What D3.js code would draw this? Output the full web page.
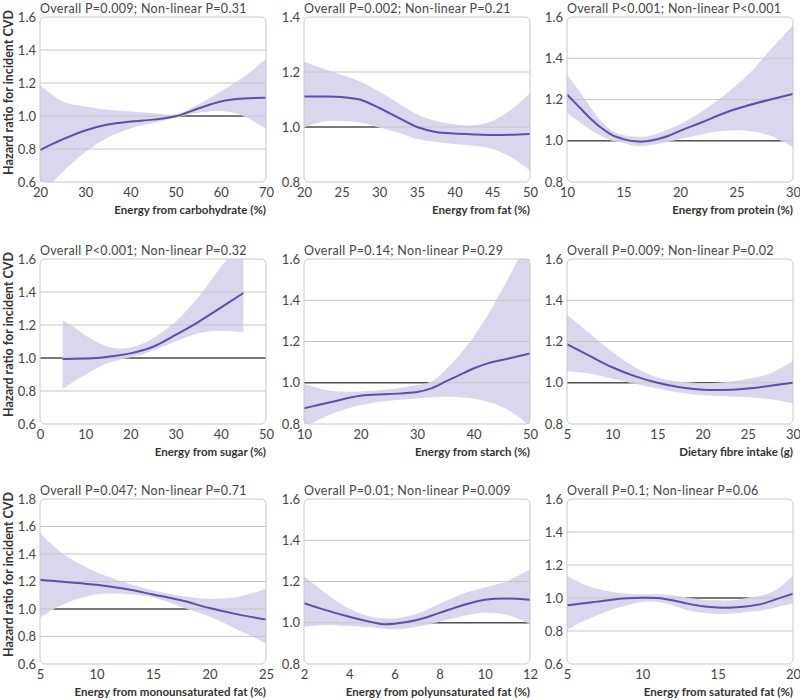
<!DOCTYPE html>
<html>
<head>
<meta charset="utf-8">
<script src="https://cdn.jsdelivr.net/npm/d3@7"></script>
<style>
  body { margin: 0; background: #fff; }
  svg { font-family: Lato, "Open Sans", sans-serif; }
</style>
</head>
<body>
<svg id="chart"></svg>
<script>
const width = 800;
const height = 700;

// panel titles, axis labels and ticks
const pTexts = [
  "Overall P=0.009; Non-linear P=0.31", "Overall P=0.002; Non-linear P=0.21", "Overall P<0.001; Non-linear P<0.001",
  "Overall P<0.001; Non-linear P=0.32", "Overall P=0.14; Non-linear P=0.29", "Overall P=0.009; Non-linear P=0.02",
  "Overall P=0.047; Non-linear P=0.71", "Overall P=0.01; Non-linear P=0.009", "Overall P=0.1; Non-linear P=0.06"
];
const xLabels = [
  "Energy from carbohydrate (%)", "Energy from fat (%)", "Energy from protein (%)",
  "Energy from sugar (%)", "Energy from starch (%)", "Dietary fibre intake (g)",
  "Energy from monounsaturated fat (%)", "Energy from polyunsaturated fat (%)", "Energy from saturated fat (%)"
];
const yLabel = "Hazard ratio for incident CVD";

const xTicks = [
  [20, 30, 40, 50, 60, 70], [20, 25, 30, 35, 40, 45, 50], [10, 15, 20, 25, 30],
  [0, 10, 20, 30, 40, 50], [10, 20, 30, 40, 50], [5, 10, 15, 20, 25, 30],
  [5, 10, 15, 20, 25], [2, 4, 6, 8, 10, 12], [5, 10, 15, 20]
];
const yTicks = [
  [0.6, 0.8, 1.0, 1.2, 1.4, 1.6], [0.8, 1.0, 1.2, 1.4], [0.8, 1.0, 1.2, 1.4, 1.6],
  [0.6, 0.8, 1.0, 1.2, 1.4, 1.6], [0.8, 1.0, 1.2, 1.4, 1.6], [0.8, 1.0, 1.2, 1.4, 1.6],
  [0.6, 0.8, 1.0, 1.2, 1.4, 1.6, 1.8], [0.8, 1.0, 1.2, 1.4, 1.6], [0.6, 0.8, 1.0, 1.2, 1.4, 1.6]
];

// carbohydrate
const carbX  = [20, 25, 30, 35, 40, 45, 50, 55, 60, 65, 70];
const carbHR = [0.794, 0.858, 0.912, 0.948, 0.966, 0.978, 0.998, 1.045, 1.088, 1.106, 1.11];
const carbLo = [0.52, 0.66, 0.78, 0.87, 0.925, 0.958, 0.99, 1.02, 1.03, 1.0, 0.92];
const carbHi = [1.188, 1.088, 1.058, 1.038, 1.028, 1.018, 1.01, 1.07, 1.15, 1.235, 1.345];

// fat
const fatX  = [20, 22.5, 25, 27.5, 30, 32.5, 35, 37.5, 40, 42.5, 45, 47.5, 50];
const fatHR = [1.111, 1.111, 1.109, 1.099, 1.069, 1.034, 1.0, 0.982, 0.976, 0.973, 0.971, 0.972, 0.975];
const fatLo = [0.998, 1.02, 1.022, 1.016, 0.998, 0.98, 0.956, 0.946, 0.938, 0.932, 0.92, 0.89, 0.842];
const fatHi = [1.237, 1.213, 1.189, 1.165, 1.129, 1.087, 1.046, 1.022, 1.01, 1.006, 1.022, 1.063, 1.123];

// protein
const protX  = [10, 11, 12, 13, 14, 15, 16, 17, 18, 19, 20, 22, 24, 26, 28, 30];
const protHR = [1.224, 1.168, 1.112, 1.064, 1.027, 1.008, 0.997, 0.997, 1.008, 1.024, 1.048, 1.091, 1.136, 1.171, 1.2, 1.227];
const protLo = [1.136, 1.096, 1.056, 1.024, 1.0, 0.989, 0.976, 0.976, 0.984, 0.995, 1.008, 1.032, 1.048, 1.048, 1.024, 0.968];
const protHi = [1.32, 1.248, 1.168, 1.096, 1.048, 1.027, 1.021, 1.021, 1.035, 1.056, 1.08, 1.144, 1.224, 1.32, 1.44, 1.56];

// sugar
const sugX  = [5, 7.5, 10, 12.5, 15, 17.5, 20, 22.5, 25, 30, 35, 40, 45];
const sugHR = [0.994, 0.995, 0.997, 1.0, 1.008, 1.016, 1.028, 1.045, 1.068, 1.14, 1.218, 1.305, 1.394];
const sugLo = [0.812, 0.858, 0.898, 0.938, 0.968, 0.988, 1.005, 1.02, 1.045, 1.1, 1.15, 1.165, 1.155];
const sugHi = [1.228, 1.188, 1.138, 1.098, 1.068, 1.058, 1.064, 1.085, 1.12, 1.22, 1.368, 1.55, 1.72];

// starch
const starX  = [10, 12.5, 15, 20, 25, 30, 32.5, 35, 37.5, 40, 42.5, 45, 47.5, 50];
const starHR = [0.876, 0.892, 0.908, 0.937, 0.945, 0.955, 0.973, 1.005, 1.037, 1.069, 1.094, 1.11, 1.126, 1.142];
const starLo = [0.78, 0.82, 0.85, 0.892, 0.913, 0.924, 0.928, 0.932, 0.93, 0.924, 0.908, 0.884, 0.844, 0.787];
const starHi = [0.994, 0.975, 0.96, 0.958, 0.968, 0.989, 1.005, 1.061, 1.134, 1.223, 1.327, 1.448, 1.577, 1.72];

// fibre
const fibX  = [5, 7.5, 10, 12.5, 15, 17.5, 20, 22.5, 25, 27.5, 30];
const fibHR = [1.187, 1.13, 1.075, 1.032, 1.0, 0.978, 0.966, 0.965, 0.972, 0.986, 1.0];
const fibLo = [1.055, 1.045, 1.02, 0.995, 0.972, 0.952, 0.94, 0.935, 0.93, 0.92, 0.9];
const fibHi = [1.33, 1.24, 1.15, 1.075, 1.025, 1.005, 0.998, 1.003, 1.02, 1.045, 1.105];

// monounsaturated fat
const mufaX  = [5, 6, 7.5, 10, 12.5, 15, 17.5, 20, 22.5, 25];
const mufaHR = [1.212, 1.205, 1.195, 1.176, 1.147, 1.106, 1.063, 1.007, 0.961, 0.923];
const mufaLo = [0.937, 0.99, 1.05, 1.105, 1.11, 1.085, 1.015, 0.945, 0.85, 0.749];
const mufaHi = [1.557, 1.472, 1.376, 1.267, 1.195, 1.135, 1.095, 1.075, 1.087, 1.147];

// polyunsaturated fat
const pufaX  = [2, 3, 4, 5, 5.5, 6, 7, 8, 9, 10, 11, 12];
const pufaHR = [1.095, 1.06, 1.029, 1.003, 0.993, 0.995, 1.013, 1.048, 1.084, 1.111, 1.117, 1.111];
const pufaLo = [0.981, 0.989, 0.984, 0.978, 0.972, 0.968, 0.981, 1.005, 1.032, 1.048, 1.037, 0.995];
const pufaHi = [1.227, 1.14, 1.068, 1.029, 1.022, 1.021, 1.044, 1.092, 1.14, 1.171, 1.203, 1.259];

// saturated fat
const sfaX  = [5, 6, 7, 8, 9, 10, 11, 12, 13, 14, 15, 16, 17, 18, 19, 20];
const sfaHR = [0.956, 0.966, 0.978, 0.99, 0.998, 1.002, 1.0, 0.986, 0.966, 0.95, 0.942, 0.942, 0.95, 0.966, 0.996, 1.026];
const sfaLo = [0.806, 0.856, 0.896, 0.93, 0.956, 0.976, 0.976, 0.956, 0.926, 0.91, 0.902, 0.906, 0.916, 0.926, 0.946, 0.966];
const sfaHi = [1.136, 1.086, 1.056, 1.036, 1.026, 1.022, 1.022, 1.016, 1.002, 0.99, 0.986, 0.986, 1.002, 1.016, 1.056, 1.136];

const series = [
  [carbX, carbHR, carbLo, carbHi], [fatX, fatHR, fatLo, fatHi], [protX, protHR, protLo, protHi],
  [sugX, sugHR, sugLo, sugHi], [starX, starHR, starLo, starHi], [fibX, fibHR, fibLo, fibHi],
  [mufaX, mufaHR, mufaLo, mufaHi], [pufaX, pufaHR, pufaLo, pufaHi], [sfaX, sfaHR, sfaLo, sfaHi]
];

// layout
const colLeft = [40, 304, 567];
const rowTop = [17, 259, 499];
const plotW = 226;
const plotH = 165;

const bandColor = "#d9d6ee";
const lineColor = "#5b50a8";
const gridColor = "#c6c6c6";

const svg = d3.select("#chart")
  .attr("width", width)
  .attr("height", height);

const defs = svg.append("defs");

series.forEach((s, i) => {
  const col = i % 3, row = Math.floor(i / 3);
  const left = colLeft[col], top = rowTop[row];
  const xt = xTicks[i], yt = yTicks[i];

  const x = d3.scaleLinear()
    .domain([xt[0], xt[xt.length - 1]])
    .range([left, left + plotW]);
  const y = d3.scaleLinear()
    .domain([yt[0], yt[yt.length - 1]])
    .range([top + plotH, top]);

  const rows = s[0].map((v, j) => ({x: v, hr: s[1][j], lo: s[2][j], hi: s[3][j]}));

  const area = d3.area()
    .x(d => x(d.x))
    .y0(d => y(d.lo))
    .y1(d => y(d.hi))
    .curve(d3.curveCatmullRom.alpha(0.5));
  const line = d3.line()
    .x(d => x(d.x))
    .y(d => y(d.hr))
    .curve(d3.curveCatmullRom.alpha(0.5));

  defs.append("clipPath").attr("id", "plot" + i)
    .append("rect")
    .attr("x", left).attr("y", top)
    .attr("width", plotW).attr("height", plotH);
  defs.append("clipPath").attr("id", "band" + i)
    .append("path").attr("d", area(rows));

  const g = svg.append("g");
  const inner = yt.slice(1, -1);

  // light gridlines
  g.append("g").selectAll("line")
    .data(inner)
    .enter().append("line")
    .attr("x1", left).attr("x2", left + plotW)
    .attr("y1", d => y(d)).attr("y2", d => y(d))
    .attr("stroke", gridColor);

  // reference line at 1.0 (under the band)
  g.append("line")
    .attr("x1", left).attr("x2", left + plotW)
    .attr("y1", y(1)).attr("y2", y(1))
    .attr("stroke", "#555")
    .attr("stroke-width", 1.3);

  const pg = g.append("g").attr("clip-path", `url(#plot${i})`);

  pg.append("path")
    .attr("d", area(rows))
    .attr("fill", bandColor);

  // gridlines showing through the band
  pg.append("g")
    .attr("clip-path", `url(#band${i})`)
    .selectAll("line")
    .data(inner)
    .enter().append("line")
    .attr("x1", left).attr("x2", left + plotW)
    .attr("y1", d => y(d)).attr("y2", d => y(d))
    .attr("stroke", gridColor);

  pg.append("path")
    .attr("d", line(rows))
    .attr("fill", "none")
    .attr("stroke", lineColor)
    .attr("stroke-width", 2);

  // panel frame
  g.append("rect")
    .attr("x", left).attr("y", top)
    .attr("width", plotW).attr("height", plotH)
    .attr("rx", 5).attr("ry", 5)
    .attr("fill", "none")
    .attr("stroke", "#c8c8c8");

  // axes
  const xAxis = g.append("g")
    .attr("transform", `translate(0,${top + plotH})`)
    .call(d3.axisBottom(x).tickValues(xt).tickSize(0).tickPadding(6).tickFormat(d3.format("d")));
  const yAxis = g.append("g")
    .attr("transform", `translate(${left},0)`)
    .call(d3.axisLeft(y).tickValues(yt).tickSize(0).tickPadding(4).tickFormat(d3.format(".1f")));
  [xAxis, yAxis].forEach(a => {
    a.select(".domain").remove();
    a.selectAll("text")
      .attr("font-family", "Lato, 'Open Sans', sans-serif")
      .attr("font-size", 13)
      .attr("fill", "#444");
  });

  g.append("text")
    .attr("x", left)
    .attr("y", top - 4.5)
    .attr("font-size", 12.5)
    .attr("letter-spacing", 0.3)
    .attr("fill", "#444")
    .text(pTexts[i]);

  g.append("text")
    .attr("x", left + plotW)
    .attr("y", top + plotH + 32)
    .attr("text-anchor", "end")
    .attr("font-size", 11.5)
    .attr("font-weight", "bold")
    .attr("fill", "#333")
    .text(xLabels[i]);

  if (col === 0) {
    g.append("text")
      .attr("transform", `translate(13,${top + plotH / 2 - 7}) rotate(-90)`)
      .attr("text-anchor", "middle")
      .attr("font-size", 12.5)
      .attr("font-weight", "bold")
      .attr("fill", "#333")
      .text(yLabel);
  }
});
</script>
</body>
</html>
